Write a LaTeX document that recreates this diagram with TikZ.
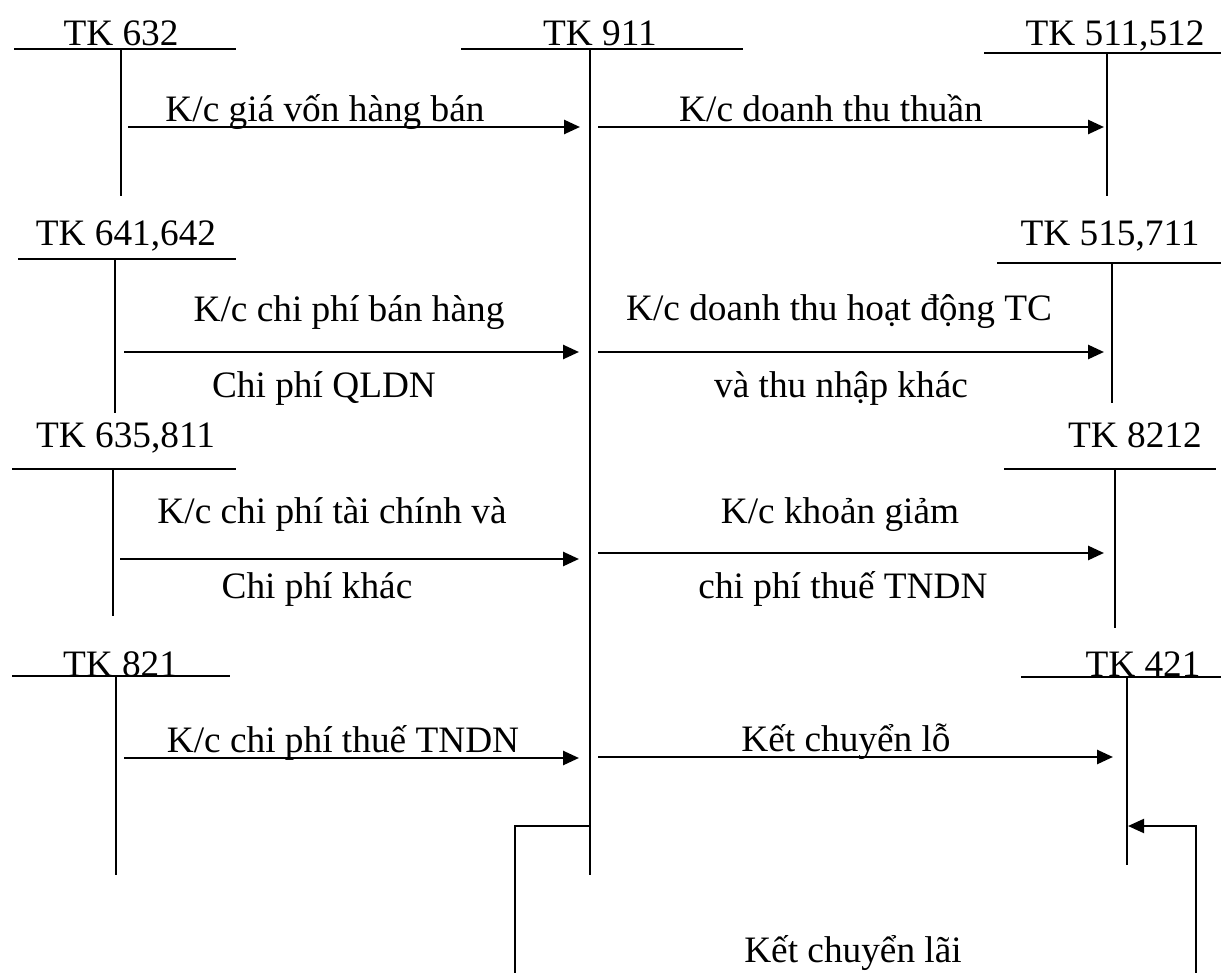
\documentclass[tikz,border=0pt]{standalone}
\usepackage{fontspec}
\setmainfont{Liberation Serif}
\usetikzlibrary{arrows.meta}
\begin{document}
\begin{tikzpicture}[x=1pt,y=-1pt,
  lbl/.style={anchor=base,inner sep=0pt,font=\fontsize{37.3}{40}\selectfont},
  tline/.style={line width=1.8pt},
  flow/.style={line width=2.6pt,-{Triangle[length=16pt,width=14pt]}},
  plain/.style={line width=2pt}]
\useasboundingbox (0,0) rectangle (1221,973);

% ---- account headings ----
\node[lbl] (n632) at (121,46) {TK 632};
\node[lbl] (n911) at (600,46) {TK 911};
\node[lbl] (n511) at (1115,46) {TK 511,512};
\node[lbl] (n641) at (126,246) {TK 641,642};
\node[lbl] (n515) at (1110,246) {TK 515,711};
\node[lbl] (n635) at (125.5,447) {TK 635,811};
\node[lbl] (n8212) at (1135,447) {TK 8212};
\node[lbl] (n821) at (120.5,676) {TK 821};
\node[lbl] (n421) at (1143,676) {TK 421};

% ---- T-accounts ----
\draw[tline] (14,49) -- (236,49);    \draw[tline] (121,49) -- (121,196);
\draw[tline] (461,49) -- (743,49);   \draw[tline] (590,49) -- (590,875);
\draw[tline] (984,53) -- (1221,53);  \draw[tline] (1107,53) -- (1107,196);
\draw[tline] (18,259) -- (236,259);  \draw[tline] (115,259) -- (115,413);
\draw[tline] (997,263) -- (1221,263); \draw[tline] (1112,263) -- (1112,403);
\draw[tline] (12,469) -- (236,469);  \draw[tline] (113,469) -- (113,616);
\draw[tline] (1004,469) -- (1216,469); \draw[tline] (1115,469) -- (1115,628);
\draw[tline] (12,676) -- (230,676);  \draw[tline] (116,676) -- (116,875);
\draw[tline] (1021,677) -- (1221,677); \draw[tline] (1127,677) -- (1127,865);

% ---- arrow end points ----
\coordinate (s1) at (128,127);  \coordinate (e1) at (580,127);
\coordinate (s2) at (598,127);  \coordinate (e2) at (1104,127);
\coordinate (s3) at (124,352);  \coordinate (e3) at (579,352);
\coordinate (s4) at (598,352);  \coordinate (e4) at (1104,352);
\coordinate (s5) at (120,559);  \coordinate (e5) at (579,559);
\coordinate (s6) at (598,553);  \coordinate (e6) at (1104,553);
\coordinate (s7) at (124,758);  \coordinate (e7) at (579,758);
\coordinate (s8) at (598,757);  \coordinate (e8) at (1113,757);
\coordinate (p0) at (590,826);  \coordinate (p1) at (515,826);  \coordinate (p2) at (515,973);
\coordinate (q0) at (1196,973); \coordinate (q1) at (1196,826); \coordinate (q2) at (1128,826);

% ---- transfers ----
\draw[flow] (s1) -- (e1);
\draw[flow] (s2) -- (e2);
\draw[flow] (s3) -- (e3);
\draw[flow] (s4) -- (e4);
\draw[flow] (s5) -- (e5);
\draw[flow] (s6) -- (e6);
\draw[flow] (s7) -- (e7);
\draw[flow] (s8) -- (e8);
\draw[plain] (p0) -- (p1) -- (p2);
\draw[plain,-{Triangle[length=16pt,width=14pt]}] (q0) -- (q1) -- (q2);

% ---- labels ----
\node[lbl] (t1) at (325,122) {K/c giá vốn hàng bán};
\node[lbl] (t2) at (831,122) {K/c doanh thu thuần};
\node[lbl] (t3a) at (349,322) {K/c chi phí bán hàng};
\node[lbl] (t3b) at (324,398) {Chi phí QLDN};
\node[lbl] (t4a) at (839,321) {K/c doanh thu hoạt động TC};
\node[lbl] (t4b) at (841,398) {và thu nhập khác};
\node[lbl] (t5a) at (332,523) {K/c chi phí tài chính và};
\node[lbl] (t5b) at (317,598) {Chi phí khác};
\node[lbl] (t6a) at (840,523) {K/c khoản giảm};
\node[lbl] (t6b) at (843,598) {chi phí thuế TNDN};
\node[lbl] (t7) at (343,752) {K/c chi phí thuế TNDN};
\node[lbl] (t8) at (846,751) {Kết chuyển lỗ};
\node[lbl] (t9) at (853,962) {Kết chuyển lãi};
\end{tikzpicture}
\end{document}
